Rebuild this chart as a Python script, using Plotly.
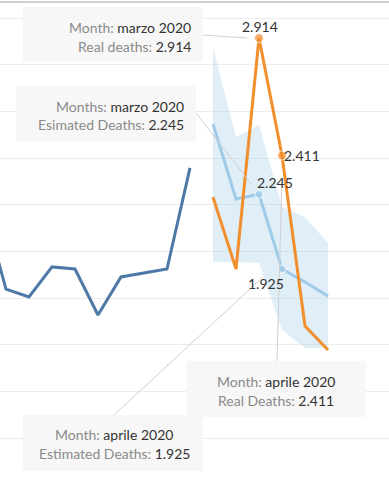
import plotly.graph_objects as go

# ---- data ----
months = ["marzo 2019", "aprile 2019", "maggio 2019", "giugno 2019", "luglio 2019",
          "agosto 2019", "settembre 2019", "ottobre 2019", "novembre 2019", "dicembre 2019",
          "gennaio 2020", "febbraio 2020", "marzo 2020", "aprile 2020", "maggio 2020",
          "giugno 2020"]

hist_months = months[0:10]
hist_deaths = [2200, 1839, 1805, 1934, 1925, 1728, 1891, 1908, 1925, 2358]

fc_months = months[10:16]
real_deaths = [2233, 1925, 2914, 2411, 1681, 1578]
est_deaths = [2546, 2225, 2245, 1925, 1869, 1809]
est_upper = [2872, 2490, 2542, 2191, 2148, 2036]
est_lower = [1955, 1955, 1951, 1664, 1587, 1587]

y_ticks = [1200, 1400, 1600, 1800, 2000, 2200, 2400, 2600, 2800, 3000]

W, H = 389, 482
FONT = "Lato"

def px(x):
    return x / W

def py(y):
    return 1 - y / H

fig = go.Figure()

# band
fig.add_trace(go.Scatter(x=fc_months, y=est_upper, mode="lines",
                         line=dict(width=0, color="rgba(160,203,232,0)"),
                         hoverinfo="skip", showlegend=False))
fig.add_trace(go.Scatter(x=fc_months, y=est_lower, mode="lines", fill="tonexty",
                         fillcolor="rgba(160,203,232,0.32)",
                         line=dict(width=0, color="rgba(160,203,232,0)"),
                         hoverinfo="skip", showlegend=False))

# historic
fig.add_trace(go.Scatter(x=hist_months, y=hist_deaths, mode="lines",
                         line=dict(color="#4e79a7", width=3), showlegend=False))

# estimated
est_sizes = [0, 0, 8, 8, 0, 0]
fig.add_trace(go.Scatter(x=fc_months, y=est_deaths, mode="lines+markers",
                         line=dict(color="#a0cbe8", width=3),
                         marker=dict(size=est_sizes, color="#a0cbe8"),
                         showlegend=False))

# real
real_sizes = [0, 0, 9, 9, 0, 0]
fig.add_trace(go.Scatter(x=fc_months, y=real_deaths, mode="lines+markers",
                         line=dict(color="#f28e2b", width=3),
                         marker=dict(size=real_sizes, color="#f28e2b"),
                         showlegend=False))

shapes = []
annotations = []

# top border
shapes.append(dict(type="line", xref="paper", yref="paper", x0=0, x1=1,
                   y0=py(2), y1=py(2), line=dict(color="#cfcfcf", width=2)))

# tooltip boxes
boxes = [
    (23, 7, 203, 62),
    (16, 86, 196, 141),
    (186, 361, 366, 417),
    (23, 415, 203, 471),
]
for x0, y0, x1, y1 in boxes:
    shapes.append(dict(type="rect", xref="paper", yref="paper",
                       x0=px(x0), x1=px(x1), y0=py(y1), y1=py(y0),
                       fillcolor="rgba(247,247,247,0.95)", line=dict(width=0),
                       layer="above"))

# connector lines
connectors = [
    (203, 35, 247, 38),
    (196, 113, 252, 185),
    (277, 361, 282, 178),
    (114, 415, 263, 277),
]
for x0, y0, x1, y1 in connectors:
    shapes.append(dict(type="line", xref="paper", yref="paper",
                       x0=px(x0), x1=px(x1), y0=py(y0), y1=py(y1),
                       line=dict(color="#d0d0d0", width=1), layer="above"))

GREY = "#8a8a8a"
DARK = "#333333"

def fmt(v):
    return f"{v:,}".replace(",", ".")

def tip_line(label, value, x, y, anchor):
    annotations.append(dict(
        xref="paper", yref="paper", x=px(x), y=py(y), xanchor=anchor, yanchor="middle",
        text=f"<span style='color:{GREY}'>{label}</span><span style='color:{DARK}'>{value}</span>",
        showarrow=False, font=dict(family=FONT, size=14)))

tip_line("Month: ", months[12], 193, 27, "right")
tip_line("Real deaths: ", fmt(real_deaths[2]), 193, 47, "right")
tip_line("Months: ", months[12], 186, 106, "right")
tip_line("Esimated Deaths: ", fmt(est_deaths[2]), 186, 125, "right")
tip_line("Month: ", months[13], 276, 381, "center")
tip_line("Real Deaths: ", fmt(real_deaths[3]), 276, 400, "center")
tip_line("Month: ", months[13], 114, 434, "center")
tip_line("Estimated Deaths: ", fmt(est_deaths[3]), 114, 453, "center")

# value labels
def val_label(txt, x, y):
    annotations.append(dict(xref="paper", yref="paper", x=px(x), y=py(y),
                            xanchor="center", yanchor="middle", text=txt,
                            showarrow=False, font=dict(family=FONT, size=14, color=DARK)))

val_label(fmt(real_deaths[2]), 260, 26)
val_label(fmt(est_deaths[2]), 275, 182)
val_label(fmt(real_deaths[3]), 302, 156)
val_label(fmt(est_deaths[3]), 266, 283)

fig.update_layout(
    width=W, height=H,
    margin=dict(l=0, r=0, t=0, b=0),
    paper_bgcolor="white", plot_bgcolor="white",
    separators=",.",
    hovermode=False,
    shapes=shapes, annotations=annotations,
    xaxis=dict(type="category", categoryorder="array", categoryarray=months,
               range=[1 - 6 / 23, 1 + 383 / 23], showgrid=False, showticklabels=False,
               zeroline=False, showline=False, ticks=""),
    yaxis=dict(range=[3000 - 464 / 0.2335, 3000 + 18 / 0.2335], tickvals=y_ticks,
               showgrid=True, gridcolor="#ececec", gridwidth=1,
               showticklabels=False, zeroline=False, showline=False, ticks=""),
)

fig.write_html("out.html", config={"displayModeBar": False},
               post_script="document.body.style.margin='0';document.body.style.overflow='hidden';")
